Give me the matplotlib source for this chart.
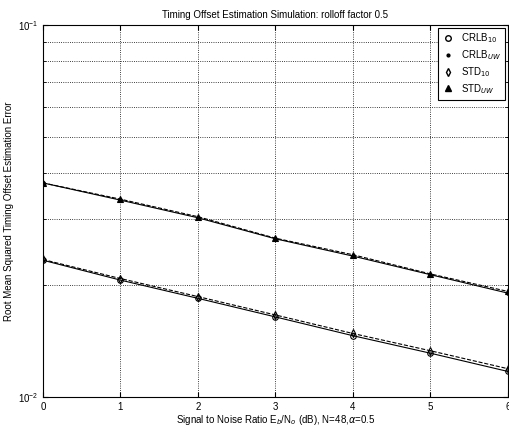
import matplotlib
matplotlib.use('Agg')
import matplotlib.pyplot as plt
from matplotlib.lines import Line2D
from matplotlib.ticker import NullFormatter, LogLocator
import numpy as np

plt.rcParams['font.family'] = ['Liberation Sans', 'DejaVu Sans']

snr = [0, 1, 2, 3, 4, 5, 6]
crlb_10 = [0.0233, 0.0206, 0.0184, 0.0164, 0.0146, 0.0131, 0.0117]
crlb_uw = [0.0376, 0.0338, 0.0303, 0.0266, 0.0239, 0.0213, 0.0190]
std_10 = [0.0234, 0.0208, 0.0186, 0.0166, 0.0148, 0.0133, 0.0119]
std_uw = [0.0376, 0.0340, 0.0305, 0.0267, 0.0241, 0.0214, 0.0192]

labels = ['CRLB$_{10}$', 'CRLB$_{UW}$', 'STD$_{10}$', 'STD$_{UW}$']
markers = ['o', '.', 'd', '^']

fig = plt.figure(figsize=(5.1, 4.29), dpi=100)
ax = fig.add_axes([0.084, 0.075, 0.912, 0.867])

ax.semilogy(snr, crlb_10, color='black', lw=0.8, ls='-', marker='o', ms=4, mfc='none', mew=0.8)
ax.semilogy(snr, crlb_uw, color='black', lw=0.8, ls='-', marker='.', ms=5)
ax.semilogy(snr, std_10, color='black', lw=0.8, ls='--', marker='d', ms=4, mfc='none', mew=0.8)
ax.semilogy(snr, std_uw, color='black', lw=0.8, ls='--', marker='^', ms=4, mfc='black', mew=0.8)

ax.set_xlim(0, 6)
ax.set_ylim(1e-2, 1e-1)
ax.set_xticks(snr)
ax.yaxis.set_minor_locator(LogLocator(base=10, subs=np.arange(2, 10)))
ax.yaxis.set_minor_formatter(NullFormatter())
ax.grid(True, which='both', ls=':', color='black', lw=0.6)
ax.tick_params(which='both', direction='in', labelsize=7, top=True, right=True)

ax.set_title('Timing Offset Estimation Simulation: rolloff factor 0.5', fontsize=7, pad=5)
ax.set_xlabel(r'Signal to Noise Ratio E$_b$/N$_o$ (dB), N=48,$\alpha$=0.5', fontsize=7, labelpad=1)
ax.set_ylabel('Root Mean Squared Timing Offset Estimation Error', fontsize=7)
ax.yaxis.set_label_coords(-0.062, 0.5)

handles = [Line2D([], [], color='black', ls='none', marker=m, ms=4,
                  mfc='none' if m in ('o', 'd') else 'black') for m in markers]
leg = ax.legend(handles, labels, loc='upper right', fontsize=7, handlelength=1.2,
                fancybox=False, edgecolor='black', framealpha=1,
                borderaxespad=0.3, labelspacing=0.3)
leg.get_frame().set_linewidth(0.8)

fig.savefig('out.png', dpi=100)
